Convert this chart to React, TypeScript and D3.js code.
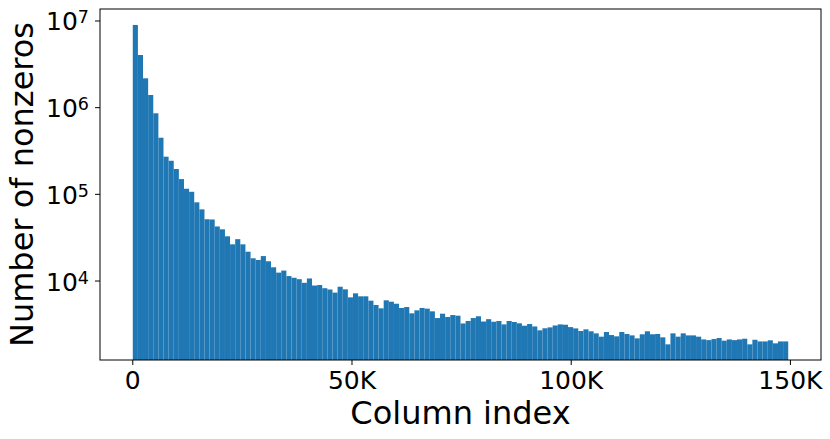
import React, { useRef, useEffect } from 'react';
import * as d3 from 'd3';

// histogram of nonzeros per column bin (log scale)
const NUM_COLS = 149500;
const NUM_BINS = 128;

const BIN_COUNTS: number[] = [
  9000000, 4050000, 2180000, 1400000, 861000, 450000, 272000, 244000,
  196000, 150000, 116000, 107000, 80900, 67100, 51600, 51300,
  42600, 39500, 32800, 26500, 30400, 26500, 21800, 18300,
  17500, 19400, 16900, 14400, 12500, 13200, 11400, 10900,
  10500, 9530, 10700, 8870, 8990, 8260, 7980, 7350,
  8590, 8020, 6480, 7210, 6660, 6660, 5930, 5290,
  4840, 5990, 5770, 5470, 4890, 5010, 4240, 4590,
  4890, 4800, 4470, 3740, 4200, 3850, 4050, 3980,
  3240, 3460, 3740, 3920, 3410, 3630, 3390, 3460,
  3160, 3460, 3370, 3250, 3050, 3190, 2990, 2700,
  2850, 2920, 3070, 3160, 3130, 2940, 2840, 2650,
  2770, 2630, 2490, 2280, 2580, 2380, 2300, 2580,
  2450, 2360, 2180, 2430, 2630, 2430, 2450, 2240,
  1860, 2490, 2280, 2490, 2360, 2360, 2280, 2120,
  2080, 2140, 2200, 2050, 2120, 2080, 2120, 2160,
  1860, 2100, 2010, 2010, 2070, 1910, 2010, 2010,
];

const X_TICKS = [0, 50000, 100000, 150000];
const X_TICK_LABELS = ['0', '50K', '100K', '150K'];
const Y_TICKS = [1e4, 1e5, 1e6, 1e7];
const Y_TICK_EXPONENTS = ['4', '5', '6', '7'];

const X_LABEL = 'Column index';
const Y_LABEL = 'Number of nonzeros';

const Histogram: React.FC = () => {
  const svgRef = useRef<SVGSVGElement>(null);

  useEffect(() => {
    const svg = d3.select(svgRef.current);
    svg.selectAll('*').remove();

    const width = 830;
    const height = 439;
    const plot = { left: 100, right: 821, top: 9, bottom: 360 };
    const font = 'DejaVu Sans, sans-serif';

    const binW = NUM_COLS / NUM_BINS;
    const pad = NUM_COLS * 0.05;

    const x = d3.scaleLinear()
      .domain([-pad, NUM_COLS + pad])
      .range([plot.left, plot.right]);

    const y = d3.scaleLog()
      .domain([1227, 1.375e7])
      .range([plot.bottom, plot.top]);

    svg.attr('width', width).attr('height', height);

    // bars
    svg.append('g')
      .selectAll('rect')
      .data(BIN_COUNTS)
      .join('rect')
      .attr('x', (_, i) => x(i * binW))
      .attr('width', (_, i) => x((i + 1) * binW) - x(i * binW))
      .attr('y', d => y(d))
      .attr('height', d => plot.bottom - y(d))
      .attr('fill', '#1f77b4');

    // frame
    svg.append('rect')
      .attr('x', plot.left)
      .attr('y', plot.top)
      .attr('width', plot.right - plot.left)
      .attr('height', plot.bottom - plot.top)
      .attr('fill', 'none')
      .attr('stroke', '#000')
      .attr('stroke-width', 1);

    // x ticks
    const xt = svg.append('g');
    X_TICKS.forEach((t, i) => {
      const px = x(t);
      xt.append('line')
        .attr('x1', px).attr('x2', px)
        .attr('y1', plot.bottom).attr('y2', plot.bottom + 5)
        .attr('stroke', '#000');
      xt.append('text')
        .attr('x', px)
        .attr('y', plot.bottom + 29)
        .attr('text-anchor', 'middle')
        .attr('font-family', font)
        .attr('font-size', 25)
        .text(X_TICK_LABELS[i]);
    });

    // y ticks
    const yt = svg.append('g');
    Y_TICKS.forEach((t, i) => {
      const py = y(t);
      yt.append('line')
        .attr('x1', plot.left - 5).attr('x2', plot.left)
        .attr('y1', py).attr('y2', py)
        .attr('stroke', '#000');
      const label = yt.append('text')
        .attr('x', plot.left - 11)
        .attr('y', py + 9.5)
        .attr('text-anchor', 'end')
        .attr('font-family', font)
        .attr('font-size', 25);
      label.append('tspan').text('10');
      label.append('tspan')
        .attr('dy', -7)
        .attr('font-size', 17.5)
        .text(Y_TICK_EXPONENTS[i]);
    });

    // axis labels
    svg.append('text')
      .attr('x', (plot.left + plot.right) / 2)
      .attr('y', 424)
      .attr('text-anchor', 'middle')
      .attr('font-family', font)
      .attr('font-size', 32)
      .text(X_LABEL);

    svg.append('text')
      .attr('transform', `translate(33,${(plot.top + plot.bottom) / 2}) rotate(-90)`)
      .attr('text-anchor', 'middle')
      .attr('font-family', font)
      .attr('font-size', 32)
      .text(Y_LABEL);
  }, []);

  return (
    <svg
      ref={svgRef}
      style={{ position: 'absolute', left: 0, top: 0, display: 'block' }}
    />
  );
};

export default function App() {
  return <Histogram />;
}
